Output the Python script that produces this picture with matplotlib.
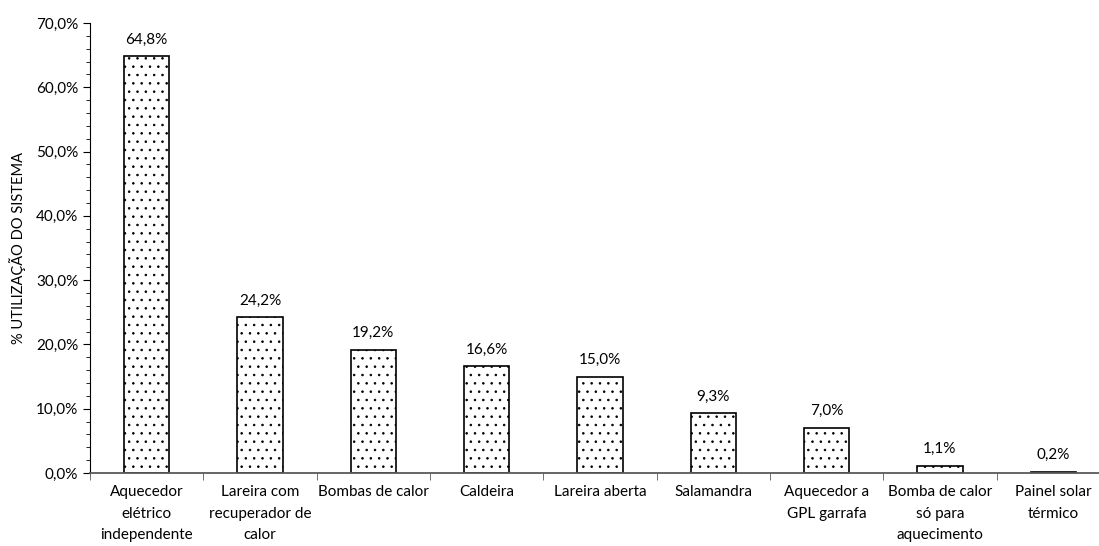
import numpy as np
import matplotlib.pyplot as plt
from matplotlib.ticker import MultipleLocator, FuncFormatter

plt.rcParams['font.family'] = ['Lato', 'DejaVu Sans']
plt.rcParams['hatch.color'] = '#707070'
plt.rcParams['hatch.linewidth'] = 0.6

systems = ['Aquecedor\nelétrico\nindependente', 'Lareira com\nrecuperador de\ncalor',
           'Bombas de calor', 'Caldeira', 'Lareira aberta', 'Salamandra',
           'Aquecedor a\nGPL garrafa', 'Bomba de calor\nsó para\naquecimento',
           'Painel solar\ntérmico']
usage = [64.8, 24.2, 19.2, 16.6, 15.0, 9.3, 7.0, 1.1, 0.2]

fig = plt.figure(figsize=(10.99, 5.46), dpi=100)
ax = fig.add_axes([0.0819, 0.1337, 0.928, 0.8242])

x = np.arange(len(usage))
bars = ax.bar(x, usage, width=0.4, color='white', edgecolor='black',
              linewidth=1.2, hatch='..')

for b, v in zip(bars, usage):
    ax.annotate(f'{v:.1f}%'.replace('.', ','), (b.get_x() + b.get_width() / 2, v),
                xytext=(0, 7), textcoords='offset points',
                ha='center', va='bottom', fontsize=11)

ax.set_xlim(-0.5, len(usage) - 0.5)
ax.set_ylim(0, 70)
ax.yaxis.set_major_locator(MultipleLocator(10))
ax.yaxis.set_minor_locator(MultipleLocator(2))
ax.yaxis.set_major_formatter(FuncFormatter(lambda v, p: f'{v:.1f}%'.replace('.', ',')))

ax.set_xticks(x)
ax.set_xticklabels(systems, fontsize=11, linespacing=1.65)
ax.set_xticks(np.arange(len(usage)) - 0.5, minor=True)
ax.tick_params(axis='x', which='major', length=0, pad=9)
ax.tick_params(axis='x', which='minor', length=5, color='#595959')
ax.tick_params(axis='y', which='major', length=5, labelsize=11, color='black')
ax.tick_params(axis='y', which='minor', length=3, color='black')

ax.set_ylabel('% UTILIZAÇÃO DO SISTEMA', fontsize=10.5, labelpad=7)

for s in ('top', 'right'):
    ax.spines[s].set_visible(False)
ax.spines['left'].set_color('black')
ax.spines['bottom'].set_color('#595959')
ax.spines['bottom'].set_linewidth(1.3)

fig.savefig('out.png', dpi=100)
